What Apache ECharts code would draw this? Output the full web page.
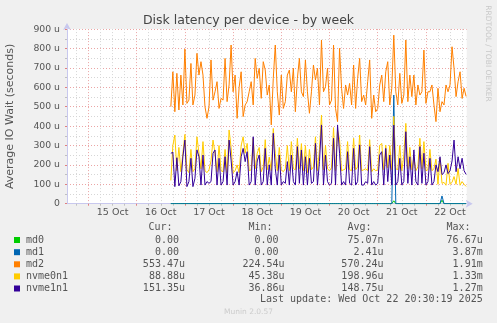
<!DOCTYPE html>
<html><head><meta charset="utf-8">
<script src="https://cdn.jsdelivr.net/npm/echarts@6/dist/echarts.min.js"></script>
<style>html,body{margin:0;padding:0;background:#f0f0f0;}#c{width:497px;height:323px;}</style>
</head><body><div id="c"></div>
<script>
// time in hours after 15 Oct 00:00
const startHour = 41;
const stepHours = 1;
const xMin = -10.7, xMax = 188.3;

const md0 = [
 0,0,0,0,0,0,0,0,0,0, 0,0,0,0,0,0,0,0,0,0, 0,0,0,0,0,0,0,0,0,0,
 0,0,0,0,0,0,0,0,0,0, 0,0,0,0,0,0,0,0,0,0, 0,0,0,0,0,0,0,0,0,0,
 0,0,0,0,0,0,0,0,0,0, 0,0,0,0,0,0,0,0,0,0, 0,0,0,0,0,0,0,0,0,0,
 0,0,0,0,0,0,0,0,0,0, 0,0,0,0,0,0,0,0,0,0,
 0,15,0,0,0,0,0,0,0,0, 0,0,0,0,0,0,0,0,0,0,
 0,0,0,0,0,18,0,0,0,0, 0,0,0,0,0,0,0,0
];
const md1 = [
 0,0,0,0,0,0,0,0,0,0, 0,0,0,0,0,0,0,0,0,0, 0,0,0,0,0,0,0,0,0,0,
 0,0,0,0,0,0,0,0,0,0, 0,0,0,0,0,0,0,0,0,0, 0,0,0,0,0,0,0,0,0,0,
 0,0,0,0,0,0,0,0,0,0, 0,0,0,0,0,0,0,0,0,0, 0,0,0,0,0,0,0,0,0,0,
 0,0,0,0,0,0,0,0,0,0, 0,0,0,0,0,0,0,0,0,0,
 0,560,0,0,0,0,0,0,0,0, 0,0,0,0,0,0,0,0,0,0,
 0,0,0,0,0,40,0,0,0,0, 0,0,0,0,0,0,0,0
];
const md2 = [
 500,680,474,672,483,663,509,797,517,534,
 723,509,560,775,663,732,663,500,440,500,
 741,534,577,629,491,543,534,749,526,612,
 818,577,663,440,600,680,449,509,526,577,
 629,509,749,646,698,543,732,689,560,612,
 406,646,818,577,457,663,491,526,663,689,
 577,698,474,646,749,577,552,741,577,466,
 577,715,638,698,509,844,577,603,698,509,
 534,818,491,423,801,595,491,612,560,620,
 509,715,491,646,749,526,560,509,629,741,
 440,560,474,491,612,663,526,680,732,509,
 595,869,577,509,672,517,560,844,526,663,
 552,663,509,612,560,577,792,517,577,577,
 612,509,423,595,474,526,509,612,577,612,
 809,698,552,629,680,543,595,553
];
const nvme0n1 = [
 120,300,354,170,290,165,260,357,175,160,
 280,165,180,345,260,180,320,170,160,175,
 220,328,260,165,300,170,165,280,160,380,
 290,160,170,200,160,300,345,260,311,170,
 175,337,180,260,290,165,190,330,175,240,
 170,388,260,170,290,175,165,180,300,170,
 320,180,175,337,180,310,170,300,160,280,
 175,190,345,170,280,457,175,300,180,170,
 185,392,170,380,330,170,175,180,320,175,
 170,337,175,190,354,170,175,180,170,330,
 165,180,170,175,300,311,175,302,185,300,
 175,450,180,175,300,170,250,414,180,290,
 175,240,170,190,337,180,320,170,175,280,
 170,180,230,100,234,105,110,95,208,100,
 110,140,100,182,95,114,100,89
];
const nvme1n1 = [
 260,265,88,237,92,114,242,328,88,114,
 234,88,131,277,242,96,251,96,114,105,
 114,260,277,96,234,96,114,242,96,328,
 225,96,114,165,96,242,285,217,268,96,
 114,345,96,220,251,96,114,285,96,200,
 96,363,180,96,251,96,114,105,217,96,
 251,114,96,294,105,277,96,242,96,234,
 105,114,311,96,217,406,96,251,114,96,
 105,337,96,406,260,96,114,96,268,105,
 96,285,96,114,303,96,96,114,105,294,
 96,114,96,105,251,268,96,285,114,251,
 96,405,96,114,234,96,114,371,105,242,
 96,277,114,96,294,105,260,96,114,234,
 96,114,200,165,242,150,160,200,155,170,
 220,328,165,242,180,234,170,151
];

const tickHours = [12,36,60,84,108,132,156,180];
const tickLabels = ['15 Oct','16 Oct','17 Oct','18 Oct','19 Oct','20 Oct','21 Oct','22 Oct'];

const seriesNames = ['md0','md1','md2','nvme0n1','nvme1n1'];
const seriesColors = ['#00cc00','#0066b3','#ff8000','#ffcc00','#330099'];
const curVals = ['0.00 ','0.00 ','553.47u','88.88u','151.35u'];
const minVals = ['0.00 ','0.00 ','224.54u','45.38u','36.86u'];
const avgVals = ['75.07n','2.41u','570.24u','198.96u','148.75u'];
const maxVals = ['76.67u','3.87m','1.91m','1.33m','1.27m'];

const titleText = 'Disk latency per device - by week';
const yName = 'Average IO Wait (seconds)';
const lastUpdate = 'Last update: Wed Oct 22 20:30:19 2025';

const allValues = [md0, md1, md2, nvme0n1, nvme1n1];

const midnights = [];
for (let h = 0; h <= 168; h += 24) midnights.push(h);
const sixHours = [];
for (let h = -6; h <= 186; h += 6) if (h % 24 !== 0) sixHours.push(h);

const chart = echarts.init(document.getElementById('c'));
const mono = 'DejaVu Sans Mono';
const sans = 'DejaVu Sans';
const txt = '#555';

const graphic = [];
const rowY = [240, 252.2, 264.3, 276.4, 288.5];
[['Cur:',172.5],['Min:',272.5],['Avg:',371.5],['Max:',470.5]].forEach(([t, x]) => {
  graphic.push({type:'text', x:x, y:227.7, silent:true,
    style:{text:t, font:'10px '+mono, fill:txt, textAlign:'right', textVerticalAlign:'middle'}});
});
seriesNames.forEach((n, i) => {
  graphic.push({type:'rect', shape:{x:14, y:rowY[i]-3, width:6, height:6}, silent:true,
    style:{fill:seriesColors[i]}});
  graphic.push({type:'text', x:26, y:rowY[i], silent:true,
    style:{text:n, font:'10px '+mono, fill:txt, textAlign:'left', textVerticalAlign:'middle'}});
  [[curVals,185],[minVals,284.6],[avgVals,383.5],[maxVals,482.7]].forEach(([arr, x]) => {
    graphic.push({type:'text', x:x, y:rowY[i], silent:true,
      style:{text:arr[i], font:'10px '+mono, fill:txt, textAlign:'right', textVerticalAlign:'middle'}});
  });
});
graphic.push({type:'text', x:482.7, y:299.5, silent:true,
  style:{text:lastUpdate, font:'10px '+mono, fill:txt, textAlign:'right', textVerticalAlign:'middle'}});
graphic.push({type:'text', x:248.5, y:312, silent:true,
  style:{text:'Munin 2.0.57', font:'7.5px '+sans, fill:'#cccccc', textAlign:'center', textVerticalAlign:'middle'}});
graphic.push({type:'text', x:487.7, y:53.5, rotation:-Math.PI/2, silent:true,
  style:{text:'RRDTOOL / TOBI OETIKER', font:'7.5px '+sans, fill:'#c8c8c8', textAlign:'center', textVerticalAlign:'middle'}});

chart.setOption({
  animation:false,
  backgroundColor:'#f0f0f0',
  title:{text:titleText, left:'center', top:9,
    textStyle:{fontFamily:sans, fontSize:12.5, fontWeight:'normal', color:'#444'}},
  grid:{left:67, right:30.3, top:29.1, bottom:119.3, containLabel:false, outerBoundsMode:'none',
    show:true, backgroundColor:'#ffffff', borderWidth:0},
  xAxis:[{
    type:'value', min:xMin, max:xMax,
    axisLine:{show:true, onZero:false, lineStyle:{color:'#c8c8ee', width:1},
      symbol:['none','arrow'], symbolSize:[6,7], symbolOffset:[0,6]},
    axisTick:{show:true, customValues:midnights, length:2, lineStyle:{color:'#e08080'}},
    splitLine:{show:true, lineStyle:{color:'#eba5a5', type:[1,2], width:1}},
    axisLabel:{customValues:tickHours, formatter:v => tickLabels[tickHours.indexOf(v)] || '',
      color:txt, fontFamily:sans, fontSize:9.5, margin:4}
  },{
    type:'value', min:xMin, max:xMax, position:'bottom',
    axisLine:{show:false, onZero:false},
    axisTick:{show:true, customValues:sixHours, length:2, lineStyle:{color:'#c0c0c0'}},
    splitLine:{show:true, lineStyle:{color:'#d6d6d6', type:[1,2], width:1}},
    axisLabel:{show:false}
  }],
  yAxis:{
    type:'value', min:0, max:900, interval:100,
    axisLine:{show:true, onZero:false, lineStyle:{color:'#c8c8ee', width:1},
      symbol:['none','arrow'], symbolSize:[6,7], symbolOffset:[0,6]},
    axisTick:{show:true, length:2, lineStyle:{color:'#e08080'}},
    minorTick:{show:true, splitNumber:2, length:2, lineStyle:{color:'#c0c0c0'}},
    splitLine:{show:true, lineStyle:{color:'#eba5a5', type:[1,2], width:1}},
    minorSplitLine:{show:true, lineStyle:{color:'#d6d6d6', type:[1,2], width:1}},
    axisLabel:{formatter:v => v === 0 ? '0' : v + ' u', color:txt, fontFamily:sans, fontSize:9.3, margin:7},
    name:yName, nameLocation:'middle', nameGap:51,
    nameTextStyle:{fontFamily:sans, fontSize:11, color:txt}
  },
  series: allValues.map((vals, k) => ({
    name:seriesNames[k], type:'line', xAxisIndex:0, showSymbol:false, symbol:'none',
    data: vals.map((v, i) => [startHour + i*stepHours, v]),
    lineStyle:{width:1, color:seriesColors[k]}, itemStyle:{color:seriesColors[k]},
    emphasis:{disabled:true}
  })),
  graphic: graphic
});
</script></body></html>
